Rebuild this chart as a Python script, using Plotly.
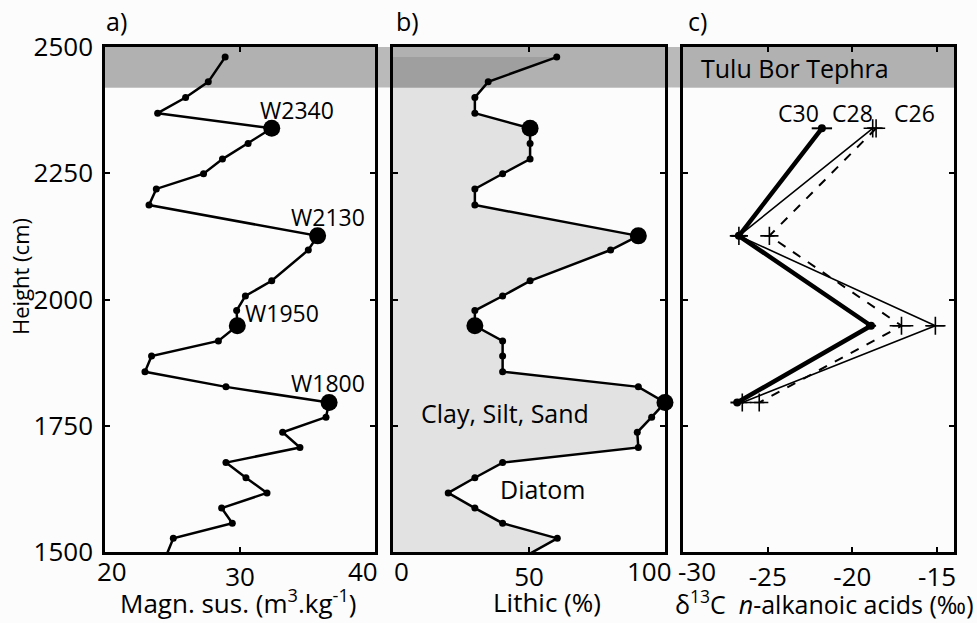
import plotly.graph_objects as go

# ---------------- data ----------------
heights = [2480, 2431, 2400, 2369, 2339, 2309, 2278, 2249, 2219, 2187, 2126, 2098,
           2037, 2007, 1978, 1948, 1918, 1888, 1857, 1827, 1796, 1767, 1737, 1707,
           1677, 1647, 1617, 1587, 1557, 1527, 1497]
magn_sus = [28.9, 27.65, 25.97, 23.9, 32.35, 30.6, 28.7, 27.3, 23.8, 23.26, 35.75, 35.06,
            32.35, 30.4, 29.75, 29.8, 28.4, 23.45, 22.96, 28.96, 36.6, 36.37, 33.16, 34.44,
            28.96, 30.44, 32.0, 28.64, 29.43, 25.06, 24.6]
lithic = [60.2, 35.0, 30.1, 30.1, 50.4, 50.4, 50.4, 40.3, 30.1, 30.1, 90.2, 80.0,
          50.4, 40.3, 30.1, 30.1, 40.3, 40.3, 40.3, 90.2, 100.0, 95.1, 89.8, 90.2,
          40.3, 30.1, 20.3, 30.1, 40.3, 60.4, 50.4]
w_samples = ["W2340", "W2130", "W1950", "W1800"]
w_heights = [2339, 2126, 1948, 1796]

c30 = [-21.8, -26.7, -18.9, -26.8]
c28 = [-18.6, -24.9, -17.1, -25.5]
c26 = [-18.8, -26.7, -15.1, -26.5]
c30_err = [0.6, 0.45, 0.3, 0.4]
c28_err = [0.4, 0.3, 0.7, 0.3]
c26_err = [0.3, 0.2, 0.6, 0.3]
chain_labels = ["C30", "C28", "C26"]

tephra_bottom, tephra_top = 2420, 2500
y_ticks = [1500, 1750, 2000, 2250, 2500]
a_ticks = [20, 30, 40]
b_ticks = [0, 50, 100]
c_ticks = [-30, -25, -20, -15]
c_ticklabels = ["-30", "-25", "-20", "-15"]

# ---------------- figure ----------------
W, H = 977, 623
FONT = "Open Sans"
BG = "#fcfcfc"

def px_x(p):
    return p / W

def px_y(p):
    return 1 - p / H

dom_a = [px_x(105), px_x(375)]
dom_b = [px_x(393), px_x(665)]
dom_c = [px_x(683), px_x(954)]
dom_y = [px_y(552), px_y(47)]

fig = go.Figure()

line_kw = dict(color="black", width=2.5)

# panel a
fig.add_trace(go.Scatter(x=magn_sus, y=heights, mode="lines+markers",
                         line=line_kw, marker=dict(color="black", size=7), cliponaxis=False,
                         xaxis="x", yaxis="y", showlegend=False))
w_idx = [heights.index(h) for h in w_heights]
fig.add_trace(go.Scatter(x=[magn_sus[i] for i in w_idx], y=w_heights, mode="markers",
                         marker=dict(color="black", size=17), cliponaxis=False,
                         xaxis="x", yaxis="y", showlegend=False))

# panel b
fig.add_trace(go.Scatter(x=lithic, y=heights, mode="lines+markers", fill="tozerox",
                         fillcolor="rgba(0,0,0,0.10)", cliponaxis=False,
                         line=line_kw, marker=dict(color="black", size=7),
                         xaxis="x2", yaxis="y2", showlegend=False))
fig.add_trace(go.Scatter(x=[lithic[i] for i in w_idx], y=w_heights, mode="markers",
                         marker=dict(color="black", size=17), cliponaxis=False,
                         xaxis="x2", yaxis="y2", showlegend=False))

# panel c
fig.add_trace(go.Scatter(x=c26, y=w_heights, mode="lines+markers",
                         line=dict(color="black", width=1.6),
                         marker=dict(symbol="cross-thin", size=13, line=dict(color="black", width=1.6)),
                         error_x=dict(type="data", array=c26_err, color="black", thickness=1.5, width=0),
                         xaxis="x3", yaxis="y3", showlegend=False))
fig.add_trace(go.Scatter(x=c28, y=w_heights, mode="lines+markers",
                         line=dict(color="black", width=2, dash="dash"),
                         marker=dict(symbol="cross-thin", size=13, line=dict(color="black", width=1.6)),
                         error_x=dict(type="data", array=c28_err, color="black", thickness=1.5, width=0),
                         xaxis="x3", yaxis="y3", showlegend=False))
fig.add_trace(go.Scatter(x=c30, y=w_heights, mode="lines+markers",
                         line=dict(color="black", width=4.5),
                         marker=dict(symbol="circle", size=8, color="black"),
                         error_x=dict(type="data", array=c30_err, color="black", thickness=2, width=0),
                         xaxis="x3", yaxis="y3", showlegend=False))

TICK_SIZE = 26
tick_font = dict(family=FONT, size=TICK_SIZE, color="black")
common_x = dict(showline=True, linecolor="black", linewidth=2.5, mirror="ticks",
                ticks="inside", ticklen=5, tickwidth=1.5, tickcolor="black",
                showgrid=False, zeroline=False, tickfont=tick_font, automargin=False)
common_y = dict(showline=True, linecolor="black", linewidth=2.5, mirror="ticks",
                ticks="inside", ticklen=5, tickwidth=1.5, tickcolor="black",
                showgrid=False, zeroline=False, tickfont=tick_font, automargin=False,
                range=[1500, 2500], tickvals=y_ticks, domain=dom_y)

def inner_labels(vals, texts):
    # edge labels are drawn separately (shifted inward), inner ones by the axis
    return [t if 0 < i < len(vals) - 1 else "" for i, t in enumerate(texts)]

fig.update_layout(
    template="none",
    width=W, height=H,
    margin=dict(l=0, r=0, t=0, b=0, pad=0, autoexpand=False),
    paper_bgcolor=BG, plot_bgcolor="rgba(0,0,0,0)",
    font=dict(family=FONT, color="black"),
    xaxis=dict(common_x, domain=dom_a, range=[20, 40], tickvals=a_ticks,
               ticktext=inner_labels(a_ticks, [str(v) for v in a_ticks]), anchor="y"),
    xaxis2=dict(common_x, domain=dom_b, range=[0, 100], tickvals=b_ticks,
                ticktext=inner_labels(b_ticks, [str(v) for v in b_ticks]), anchor="y2"),
    xaxis3=dict(common_x, domain=dom_c, range=[-30, -14], tickvals=c_ticks,
                ticktext=[""] + c_ticklabels[1:], anchor="y3"),
    yaxis=dict(common_y, anchor="x", ticklabelstandoff=4),
    yaxis2=dict(common_y, anchor="x2", showticklabels=False),
    yaxis3=dict(common_y, anchor="x3", showticklabels=False),
)

# tephra band across all panels
fig.add_shape(type="rect", xref="paper", yref="y", x0=dom_a[0], x1=dom_c[1],
              y0=tephra_bottom, y1=tephra_top + 4, fillcolor="#bababa",
              line=dict(width=0), layer="below")
for xr in ["x", "x2", "x3"]:
    fig.add_shape(type="rect", xref=xr + " domain", yref="y", x0=0, x1=1,
                  y0=tephra_bottom, y1=tephra_top, fillcolor="#b1b1b1",
                  line=dict(width=0), layer="below")

ann = []
def add_text(**kw):
    kw.setdefault("showarrow", False)
    kw.setdefault("xanchor", "center")
    kw.setdefault("yanchor", "middle")
    ann.append(kw)

lab_font = dict(family=FONT, size=23, color="black")
# W sample labels (panel a)
w_label_pos = [(34.2, 2375), (36.5, 2163), (33.1, 1973), (36.5, 1835)]
for name, (lx, ly) in zip(w_samples, w_label_pos):
    add_text(x=lx, y=ly, xref="x", yref="y", text=name, font=lab_font)
# panel b texts
add_text(x=41.2, y=1775, xref="x2", yref="y2", text="Clay, Silt, Sand",
         font=dict(family=FONT, size=25, color="black"))
add_text(x=55.1, y=1625, xref="x2", yref="y2", text="Diatom",
         font=dict(family=FONT, size=25, color="black"))
# panel c texts
add_text(x=-23.4, y=2458, xref="x3", yref="y3", text="Tulu Bor Tephra",
         font=dict(family=FONT, size=25, color="black"))
for name, lx in zip(chain_labels, [-23.2, -20.0, -16.35]):
    add_text(x=lx, y=2369, xref="x3", yref="y3", text=name, font=lab_font)
# panel letters
for letter, px in zip(["a)", "b)", "c)"], [116, 407, 697]):
    add_text(x=px_x(px), y=px_y(21), xref="paper", yref="paper", text=letter,
             font=dict(family=FONT, size=25, color="black"))
# edge tick labels shifted inward
edge = [("x", a_ticks[0], str(a_ticks[0]), 7), ("x", a_ticks[-1], str(a_ticks[-1]), -12),
        ("x2", b_ticks[0], str(b_ticks[0]), 8), ("x2", b_ticks[-1], str(b_ticks[-1]), -16),
        ("x3", c_ticks[0], c_ticklabels[0], 14)]
for xr, v, t, sh in edge:
    add_text(x=v, y=px_y(571), xref=xr, yref="paper", text=t, xshift=sh, font=tick_font)
# axis titles
title_font = dict(family=FONT, size=26, color="black")
add_text(x=px_x(238), y=px_y(602), xref="paper", yref="paper",
         text="Magn. sus. (m<sup>3</sup>.kg<sup>-1</sup>)", font=title_font)
add_text(x=px_x(547), y=px_y(602), xref="paper", yref="paper",
         text="Lithic (%)", font=title_font)
add_text(x=px_x(824), y=px_y(602), xref="paper", yref="paper",
         text="δ<sup>13</sup>C  <i>n</i>-alkanoic acids (‰)",
         font=dict(family=FONT, size=25, color="black"))
add_text(x=px_x(20), y=px_y(277), xref="paper", yref="paper", textangle=-90,
         text="Height (cm)", font=dict(family=FONT, size=22, color="black"))
fig.update_layout(annotations=ann)

fig.write_html("out.html", config={"displayModeBar": False},
               post_script="document.body.style.margin='0';")
